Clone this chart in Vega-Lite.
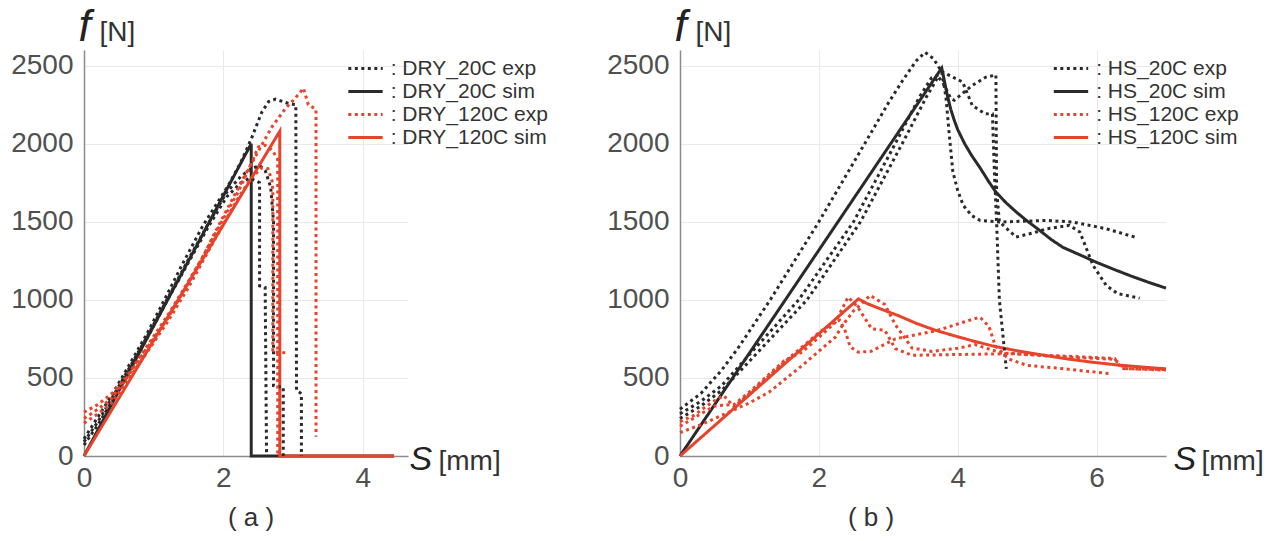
{
"$schema": "https://vega.github.io/schema/vega-lite/v6.json",
"padding": {"left": 10, "top": 5, "right": 5, "bottom": 5},
"spacing": 272,
"bounds": "flush",
"config": {
  "view": {"stroke": null},
  "font": "Liberation Sans",
  "axis": {"grid": true, "gridColor": "#e9e9e9", "gridWidth": 1, "domainColor": "#8c8c8c", "domainWidth": 1.5, "ticks": false, "tickSize": 0, "labelFontSize": 28, "labelColor": "#505050", "labelFont": "Liberation Sans", "labelFlush": false, "titleFont": "Liberation Sans", "titleFontWeight": "normal", "titleColor": "#222222", "titleAngle": 0, "titleAlign": "left", "titleBaseline": "alphabetic", "format": "d"},
  "legend": {"orient": "none", "symbolType": "M-2.4,0H2.4", "symbolSize": 205, "symbolStrokeWidth": 3, "labelFontSize": 21, "labelColor": "#333333", "labelFont": "Liberation Sans", "labelOffset": 14.7, "rowPadding": 1},
  "title": {"font": "Liberation Sans", "fontSize": 26, "fontWeight": "normal", "color": "#333333", "orient": "bottom", "anchor": "middle", "offset": 13}
},
"resolve": {"scale": {"color": "independent", "strokeDash": "independent", "x": "independent", "y": "independent"}},
"datasets": {
  "dry": [
    {"series": "DRY_20C sim", "run": 1, "s": 0, "f": 0}, {"series": "DRY_20C sim", "run": 1, "s": 2.4, "f": 2000}, {"series": "DRY_20C sim", "run": 1, "s": 2.4, "f": 0}, {"series": "DRY_20C sim", "run": 1, "s": 4.45, "f": 0},
    {"series": "DRY_120C sim", "run": 1, "s": 0, "f": 0}, {"series": "DRY_120C sim", "run": 1, "s": 2.81, "f": 2080}, {"series": "DRY_120C sim", "run": 1, "s": 2.81, "f": 0}, {"series": "DRY_120C sim", "run": 1, "s": 4.45, "f": 0},
    {"series": "DRY_20C exp", "run": 1, "s": 0, "f": 110}, {"series": "DRY_20C exp", "run": 1, "s": 0.2, "f": 250}, {"series": "DRY_20C exp", "run": 1, "s": 0.4, "f": 390}, {"series": "DRY_20C exp", "run": 1, "s": 0.6, "f": 545}, {"series": "DRY_20C exp", "run": 1, "s": 0.9, "f": 780}, {"series": "DRY_20C exp", "run": 1, "s": 1.2, "f": 1040}, {"series": "DRY_20C exp", "run": 1, "s": 1.4, "f": 1218}, {"series": "DRY_20C exp", "run": 1, "s": 1.7, "f": 1470}, {"series": "DRY_20C exp", "run": 1, "s": 2.07, "f": 1732}, {"series": "DRY_20C exp", "run": 1, "s": 2.25, "f": 1880}, {"series": "DRY_20C exp", "run": 1, "s": 2.4, "f": 2030}, {"series": "DRY_20C exp", "run": 1, "s": 2.55, "f": 2200}, {"series": "DRY_20C exp", "run": 1, "s": 2.65, "f": 2270}, {"series": "DRY_20C exp", "run": 1, "s": 2.75, "f": 2285}, {"series": "DRY_20C exp", "run": 1, "s": 2.85, "f": 2270}, {"series": "DRY_20C exp", "run": 1, "s": 2.95, "f": 2255}, {"series": "DRY_20C exp", "run": 1, "s": 3.04, "f": 2250}, {"series": "DRY_20C exp", "run": 1, "s": 3.05, "f": 420}, {"series": "DRY_20C exp", "run": 1, "s": 3.12, "f": 400}, {"series": "DRY_20C exp", "run": 1, "s": 3.12, "f": 0},
    {"series": "DRY_20C exp", "run": 2, "s": 0, "f": 90}, {"series": "DRY_20C exp", "run": 2, "s": 0.2, "f": 220}, {"series": "DRY_20C exp", "run": 2, "s": 0.4, "f": 370}, {"series": "DRY_20C exp", "run": 2, "s": 0.6, "f": 525}, {"series": "DRY_20C exp", "run": 2, "s": 0.9, "f": 760}, {"series": "DRY_20C exp", "run": 2, "s": 1.2, "f": 1010}, {"series": "DRY_20C exp", "run": 2, "s": 1.5, "f": 1260}, {"series": "DRY_20C exp", "run": 2, "s": 1.8, "f": 1500}, {"series": "DRY_20C exp", "run": 2, "s": 2.05, "f": 1690}, {"series": "DRY_20C exp", "run": 2, "s": 2.25, "f": 1790}, {"series": "DRY_20C exp", "run": 2, "s": 2.4, "f": 1840}, {"series": "DRY_20C exp", "run": 2, "s": 2.52, "f": 1860}, {"series": "DRY_20C exp", "run": 2, "s": 2.6, "f": 1830}, {"series": "DRY_20C exp", "run": 2, "s": 2.68, "f": 1720}, {"series": "DRY_20C exp", "run": 2, "s": 2.72, "f": 1500}, {"series": "DRY_20C exp", "run": 2, "s": 2.72, "f": 450}, {"series": "DRY_20C exp", "run": 2, "s": 2.86, "f": 440}, {"series": "DRY_20C exp", "run": 2, "s": 2.86, "f": 0},
    {"series": "DRY_20C exp", "run": 3, "s": 0, "f": 70}, {"series": "DRY_20C exp", "run": 3, "s": 0.2, "f": 200}, {"series": "DRY_20C exp", "run": 3, "s": 0.4, "f": 350}, {"series": "DRY_20C exp", "run": 3, "s": 0.6, "f": 510}, {"series": "DRY_20C exp", "run": 3, "s": 0.9, "f": 750}, {"series": "DRY_20C exp", "run": 3, "s": 1.2, "f": 1000}, {"series": "DRY_20C exp", "run": 3, "s": 1.5, "f": 1240}, {"series": "DRY_20C exp", "run": 3, "s": 1.8, "f": 1480}, {"series": "DRY_20C exp", "run": 3, "s": 2.05, "f": 1660}, {"series": "DRY_20C exp", "run": 3, "s": 2.25, "f": 1750}, {"series": "DRY_20C exp", "run": 3, "s": 2.38, "f": 1780}, {"series": "DRY_20C exp", "run": 3, "s": 2.45, "f": 1765}, {"series": "DRY_20C exp", "run": 3, "s": 2.52, "f": 1750}, {"series": "DRY_20C exp", "run": 3, "s": 2.52, "f": 1090}, {"series": "DRY_20C exp", "run": 3, "s": 2.6, "f": 1080}, {"series": "DRY_20C exp", "run": 3, "s": 2.62, "f": 0},
    {"series": "DRY_120C exp", "run": 1, "s": 0, "f": 280}, {"series": "DRY_120C exp", "run": 1, "s": 0.2, "f": 330}, {"series": "DRY_120C exp", "run": 1, "s": 0.4, "f": 400}, {"series": "DRY_120C exp", "run": 1, "s": 0.6, "f": 500}, {"series": "DRY_120C exp", "run": 1, "s": 0.9, "f": 700}, {"series": "DRY_120C exp", "run": 1, "s": 1.2, "f": 900}, {"series": "DRY_120C exp", "run": 1, "s": 1.4, "f": 1046}, {"series": "DRY_120C exp", "run": 1, "s": 1.7, "f": 1270}, {"series": "DRY_120C exp", "run": 1, "s": 1.88, "f": 1432}, {"series": "DRY_120C exp", "run": 1, "s": 2.1, "f": 1620}, {"series": "DRY_120C exp", "run": 1, "s": 2.3, "f": 1790}, {"series": "DRY_120C exp", "run": 1, "s": 2.5, "f": 1950}, {"series": "DRY_120C exp", "run": 1, "s": 2.7, "f": 2110}, {"series": "DRY_120C exp", "run": 1, "s": 2.9, "f": 2230}, {"series": "DRY_120C exp", "run": 1, "s": 3.03, "f": 2290}, {"series": "DRY_120C exp", "run": 1, "s": 3.15, "f": 2355}, {"series": "DRY_120C exp", "run": 1, "s": 3.22, "f": 2250}, {"series": "DRY_120C exp", "run": 1, "s": 3.31, "f": 2225}, {"series": "DRY_120C exp", "run": 1, "s": 3.33, "f": 2220}, {"series": "DRY_120C exp", "run": 1, "s": 3.33, "f": 124},
    {"series": "DRY_120C exp", "run": 2, "s": 0, "f": 240}, {"series": "DRY_120C exp", "run": 2, "s": 0.2, "f": 300}, {"series": "DRY_120C exp", "run": 2, "s": 0.4, "f": 370}, {"series": "DRY_120C exp", "run": 2, "s": 0.6, "f": 490}, {"series": "DRY_120C exp", "run": 2, "s": 0.9, "f": 690}, {"series": "DRY_120C exp", "run": 2, "s": 1.2, "f": 880}, {"series": "DRY_120C exp", "run": 2, "s": 1.5, "f": 1110}, {"series": "DRY_120C exp", "run": 2, "s": 1.88, "f": 1420}, {"series": "DRY_120C exp", "run": 2, "s": 2.21, "f": 1690}, {"series": "DRY_120C exp", "run": 2, "s": 2.4, "f": 1870}, {"series": "DRY_120C exp", "run": 2, "s": 2.5, "f": 1979}, {"series": "DRY_120C exp", "run": 2, "s": 2.6, "f": 1990}, {"series": "DRY_120C exp", "run": 2, "s": 2.7, "f": 1960}, {"series": "DRY_120C exp", "run": 2, "s": 2.78, "f": 1900}, {"series": "DRY_120C exp", "run": 2, "s": 2.78, "f": 0},
    {"series": "DRY_120C exp", "run": 3, "s": 0, "f": 210}, {"series": "DRY_120C exp", "run": 3, "s": 0.2, "f": 270}, {"series": "DRY_120C exp", "run": 3, "s": 0.4, "f": 340}, {"series": "DRY_120C exp", "run": 3, "s": 0.6, "f": 470}, {"series": "DRY_120C exp", "run": 3, "s": 0.9, "f": 660}, {"series": "DRY_120C exp", "run": 3, "s": 1.2, "f": 860}, {"series": "DRY_120C exp", "run": 3, "s": 1.5, "f": 1080}, {"series": "DRY_120C exp", "run": 3, "s": 1.88, "f": 1390}, {"series": "DRY_120C exp", "run": 3, "s": 2.21, "f": 1650}, {"series": "DRY_120C exp", "run": 3, "s": 2.4, "f": 1780}, {"series": "DRY_120C exp", "run": 3, "s": 2.55, "f": 1845}, {"series": "DRY_120C exp", "run": 3, "s": 2.64, "f": 1840}, {"series": "DRY_120C exp", "run": 3, "s": 2.7, "f": 1760}, {"series": "DRY_120C exp", "run": 3, "s": 2.71, "f": 1700}, {"series": "DRY_120C exp", "run": 3, "s": 2.71, "f": 667}, {"series": "DRY_120C exp", "run": 3, "s": 2.9, "f": 660}
  ],
  "hs": [
    {"series": "HS_20C sim", "run": 1, "s": 0, "f": 0}, {"series": "HS_20C sim", "run": 1, "s": 3.77, "f": 2485}, {"series": "HS_20C sim", "run": 1, "s": 3.8, "f": 2420}, {"series": "HS_20C sim", "run": 1, "s": 3.85, "f": 2310}, {"series": "HS_20C sim", "run": 1, "s": 3.9, "f": 2220}, {"series": "HS_20C sim", "run": 1, "s": 3.95, "f": 2150}, {"series": "HS_20C sim", "run": 1, "s": 4.0, "f": 2090}, {"series": "HS_20C sim", "run": 1, "s": 4.1, "f": 2000}, {"series": "HS_20C sim", "run": 1, "s": 4.2, "f": 1925}, {"series": "HS_20C sim", "run": 1, "s": 4.33, "f": 1840}, {"series": "HS_20C sim", "run": 1, "s": 4.45, "f": 1755}, {"series": "HS_20C sim", "run": 1, "s": 4.55, "f": 1690}, {"series": "HS_20C sim", "run": 1, "s": 4.7, "f": 1620}, {"series": "HS_20C sim", "run": 1, "s": 4.85, "f": 1560}, {"series": "HS_20C sim", "run": 1, "s": 5.0, "f": 1505}, {"series": "HS_20C sim", "run": 1, "s": 5.18, "f": 1445}, {"series": "HS_20C sim", "run": 1, "s": 5.35, "f": 1385}, {"series": "HS_20C sim", "run": 1, "s": 5.52, "f": 1335}, {"series": "HS_20C sim", "run": 1, "s": 5.75, "f": 1290}, {"series": "HS_20C sim", "run": 1, "s": 6.0, "f": 1240}, {"series": "HS_20C sim", "run": 1, "s": 6.25, "f": 1195}, {"series": "HS_20C sim", "run": 1, "s": 6.5, "f": 1152}, {"series": "HS_20C sim", "run": 1, "s": 6.75, "f": 1112}, {"series": "HS_20C sim", "run": 1, "s": 7.0, "f": 1075},
    {"series": "HS_120C sim", "run": 1, "s": 0, "f": 0}, {"series": "HS_120C sim", "run": 1, "s": 2.57, "f": 1006}, {"series": "HS_120C sim", "run": 1, "s": 2.7, "f": 975}, {"series": "HS_120C sim", "run": 1, "s": 2.9, "f": 940}, {"series": "HS_120C sim", "run": 1, "s": 3.15, "f": 898}, {"series": "HS_120C sim", "run": 1, "s": 3.4, "f": 850}, {"series": "HS_120C sim", "run": 1, "s": 3.68, "f": 805}, {"series": "HS_120C sim", "run": 1, "s": 3.95, "f": 770}, {"series": "HS_120C sim", "run": 1, "s": 4.21, "f": 738}, {"series": "HS_120C sim", "run": 1, "s": 4.5, "f": 705}, {"series": "HS_120C sim", "run": 1, "s": 4.84, "f": 675}, {"series": "HS_120C sim", "run": 1, "s": 5.2, "f": 648}, {"series": "HS_120C sim", "run": 1, "s": 5.57, "f": 622}, {"series": "HS_120C sim", "run": 1, "s": 5.95, "f": 600}, {"series": "HS_120C sim", "run": 1, "s": 6.3, "f": 583}, {"series": "HS_120C sim", "run": 1, "s": 6.65, "f": 570}, {"series": "HS_120C sim", "run": 1, "s": 7.0, "f": 558},
    {"series": "HS_20C exp", "run": 1, "s": 0, "f": 300}, {"series": "HS_20C exp", "run": 1, "s": 0.3, "f": 400}, {"series": "HS_20C exp", "run": 1, "s": 0.6, "f": 550}, {"series": "HS_20C exp", "run": 1, "s": 0.85, "f": 700}, {"series": "HS_20C exp", "run": 1, "s": 1.3, "f": 1000}, {"series": "HS_20C exp", "run": 1, "s": 2.0, "f": 1500}, {"series": "HS_20C exp", "run": 1, "s": 2.66, "f": 2000}, {"series": "HS_20C exp", "run": 1, "s": 3.0, "f": 2260}, {"series": "HS_20C exp", "run": 1, "s": 3.2, "f": 2400}, {"series": "HS_20C exp", "run": 1, "s": 3.4, "f": 2530}, {"series": "HS_20C exp", "run": 1, "s": 3.53, "f": 2585}, {"series": "HS_20C exp", "run": 1, "s": 3.65, "f": 2545}, {"series": "HS_20C exp", "run": 1, "s": 3.77, "f": 2460}, {"series": "HS_20C exp", "run": 1, "s": 3.83, "f": 2300}, {"series": "HS_20C exp", "run": 1, "s": 3.88, "f": 2050}, {"series": "HS_20C exp", "run": 1, "s": 3.93, "f": 1820}, {"series": "HS_20C exp", "run": 1, "s": 4.0, "f": 1700}, {"series": "HS_20C exp", "run": 1, "s": 4.08, "f": 1605}, {"series": "HS_20C exp", "run": 1, "s": 4.2, "f": 1540}, {"series": "HS_20C exp", "run": 1, "s": 4.32, "f": 1509}, {"series": "HS_20C exp", "run": 1, "s": 4.6, "f": 1498}, {"series": "HS_20C exp", "run": 1, "s": 5.28, "f": 1509}, {"series": "HS_20C exp", "run": 1, "s": 5.66, "f": 1498}, {"series": "HS_20C exp", "run": 1, "s": 6.14, "f": 1455}, {"series": "HS_20C exp", "run": 1, "s": 6.55, "f": 1402},
    {"series": "HS_20C exp", "run": 2, "s": 0, "f": 270}, {"series": "HS_20C exp", "run": 2, "s": 0.3, "f": 350}, {"series": "HS_20C exp", "run": 2, "s": 0.6, "f": 450}, {"series": "HS_20C exp", "run": 2, "s": 0.9, "f": 600}, {"series": "HS_20C exp", "run": 2, "s": 1.71, "f": 1000}, {"series": "HS_20C exp", "run": 2, "s": 2.5, "f": 1500}, {"series": "HS_20C exp", "run": 2, "s": 3.1, "f": 2000}, {"series": "HS_20C exp", "run": 2, "s": 3.45, "f": 2300}, {"series": "HS_20C exp", "run": 2, "s": 3.62, "f": 2420}, {"series": "HS_20C exp", "run": 2, "s": 3.8, "f": 2455}, {"series": "HS_20C exp", "run": 2, "s": 4.07, "f": 2395}, {"series": "HS_20C exp", "run": 2, "s": 4.21, "f": 2245}, {"series": "HS_20C exp", "run": 2, "s": 4.39, "f": 2192}, {"series": "HS_20C exp", "run": 2, "s": 4.5, "f": 2190}, {"series": "HS_20C exp", "run": 2, "s": 4.53, "f": 1800}, {"series": "HS_20C exp", "run": 2, "s": 4.56, "f": 1500}, {"series": "HS_20C exp", "run": 2, "s": 4.6, "f": 1000}, {"series": "HS_20C exp", "run": 2, "s": 4.7, "f": 558},
    {"series": "HS_20C exp", "run": 3, "s": 0, "f": 240}, {"series": "HS_20C exp", "run": 3, "s": 0.3, "f": 320}, {"series": "HS_20C exp", "run": 3, "s": 0.6, "f": 420}, {"series": "HS_20C exp", "run": 3, "s": 0.9, "f": 560}, {"series": "HS_20C exp", "run": 3, "s": 1.83, "f": 1000}, {"series": "HS_20C exp", "run": 3, "s": 2.6, "f": 1500}, {"series": "HS_20C exp", "run": 3, "s": 3.2, "f": 2000}, {"series": "HS_20C exp", "run": 3, "s": 3.55, "f": 2300}, {"series": "HS_20C exp", "run": 3, "s": 3.72, "f": 2430}, {"series": "HS_20C exp", "run": 3, "s": 3.8, "f": 2380}, {"series": "HS_20C exp", "run": 3, "s": 3.9, "f": 2290}, {"series": "HS_20C exp", "run": 3, "s": 3.95, "f": 2278}, {"series": "HS_20C exp", "run": 3, "s": 4.2, "f": 2370}, {"series": "HS_20C exp", "run": 3, "s": 4.4, "f": 2425}, {"series": "HS_20C exp", "run": 3, "s": 4.55, "f": 2440}, {"series": "HS_20C exp", "run": 3, "s": 4.56, "f": 1700}, {"series": "HS_20C exp", "run": 3, "s": 4.6, "f": 1500}, {"series": "HS_20C exp", "run": 3, "s": 4.84, "f": 1402}, {"series": "HS_20C exp", "run": 3, "s": 5.1, "f": 1430}, {"series": "HS_20C exp", "run": 3, "s": 5.28, "f": 1455}, {"series": "HS_20C exp", "run": 3, "s": 5.61, "f": 1477}, {"series": "HS_20C exp", "run": 3, "s": 5.76, "f": 1434}, {"series": "HS_20C exp", "run": 3, "s": 5.95, "f": 1220}, {"series": "HS_20C exp", "run": 3, "s": 6.14, "f": 1092}, {"series": "HS_20C exp", "run": 3, "s": 6.3, "f": 1040}, {"series": "HS_20C exp", "run": 3, "s": 6.62, "f": 1011},
    {"series": "HS_120C exp", "run": 1, "s": 0, "f": 220}, {"series": "HS_120C exp", "run": 1, "s": 0.2, "f": 260}, {"series": "HS_120C exp", "run": 1, "s": 0.46, "f": 344}, {"series": "HS_120C exp", "run": 1, "s": 0.63, "f": 387}, {"series": "HS_120C exp", "run": 1, "s": 0.78, "f": 314}, {"series": "HS_120C exp", "run": 1, "s": 1.0, "f": 400}, {"series": "HS_120C exp", "run": 1, "s": 1.5, "f": 600}, {"series": "HS_120C exp", "run": 1, "s": 2.0, "f": 790}, {"series": "HS_120C exp", "run": 1, "s": 2.2, "f": 850}, {"series": "HS_120C exp", "run": 1, "s": 2.3, "f": 870}, {"series": "HS_120C exp", "run": 1, "s": 2.38, "f": 800}, {"series": "HS_120C exp", "run": 1, "s": 2.45, "f": 700}, {"series": "HS_120C exp", "run": 1, "s": 2.57, "f": 665}, {"series": "HS_120C exp", "run": 1, "s": 2.75, "f": 670}, {"series": "HS_120C exp", "run": 1, "s": 3.1, "f": 750}, {"series": "HS_120C exp", "run": 1, "s": 3.7, "f": 803}, {"series": "HS_120C exp", "run": 1, "s": 4.1, "f": 860}, {"series": "HS_120C exp", "run": 1, "s": 4.32, "f": 889}, {"series": "HS_120C exp", "run": 1, "s": 4.45, "f": 830}, {"series": "HS_120C exp", "run": 1, "s": 4.54, "f": 707}, {"series": "HS_120C exp", "run": 1, "s": 4.73, "f": 622}, {"series": "HS_120C exp", "run": 1, "s": 5.0, "f": 580}, {"series": "HS_120C exp", "run": 1, "s": 5.5, "f": 560}, {"series": "HS_120C exp", "run": 1, "s": 6.22, "f": 526},
    {"series": "HS_120C exp", "run": 2, "s": 0, "f": 190}, {"series": "HS_120C exp", "run": 2, "s": 0.3, "f": 270}, {"series": "HS_120C exp", "run": 2, "s": 0.5, "f": 320}, {"series": "HS_120C exp", "run": 2, "s": 0.78, "f": 330}, {"series": "HS_120C exp", "run": 2, "s": 1.0, "f": 410}, {"series": "HS_120C exp", "run": 2, "s": 1.5, "f": 610}, {"series": "HS_120C exp", "run": 2, "s": 1.76, "f": 666}, {"series": "HS_120C exp", "run": 2, "s": 2.0, "f": 760}, {"series": "HS_120C exp", "run": 2, "s": 2.24, "f": 857}, {"series": "HS_120C exp", "run": 2, "s": 2.42, "f": 1017}, {"series": "HS_120C exp", "run": 2, "s": 2.55, "f": 960}, {"series": "HS_120C exp", "run": 2, "s": 2.76, "f": 815}, {"series": "HS_120C exp", "run": 2, "s": 2.95, "f": 805}, {"series": "HS_120C exp", "run": 2, "s": 3.1, "f": 688}, {"series": "HS_120C exp", "run": 2, "s": 3.34, "f": 645}, {"series": "HS_120C exp", "run": 2, "s": 4.0, "f": 650}, {"series": "HS_120C exp", "run": 2, "s": 4.78, "f": 655}, {"series": "HS_120C exp", "run": 2, "s": 5.83, "f": 634}, {"series": "HS_120C exp", "run": 2, "s": 6.26, "f": 624}, {"series": "HS_120C exp", "run": 2, "s": 6.36, "f": 560}, {"series": "HS_120C exp", "run": 2, "s": 7.0, "f": 553},
    {"series": "HS_120C exp", "run": 3, "s": 0, "f": 150}, {"series": "HS_120C exp", "run": 3, "s": 0.3, "f": 200}, {"series": "HS_120C exp", "run": 3, "s": 0.6, "f": 260}, {"series": "HS_120C exp", "run": 3, "s": 1.0, "f": 340}, {"series": "HS_120C exp", "run": 3, "s": 1.28, "f": 408}, {"series": "HS_120C exp", "run": 3, "s": 1.76, "f": 580}, {"series": "HS_120C exp", "run": 3, "s": 2.24, "f": 762}, {"series": "HS_120C exp", "run": 3, "s": 2.33, "f": 830}, {"series": "HS_120C exp", "run": 3, "s": 2.5, "f": 930}, {"series": "HS_120C exp", "run": 3, "s": 2.74, "f": 1028}, {"series": "HS_120C exp", "run": 3, "s": 2.95, "f": 970}, {"series": "HS_120C exp", "run": 3, "s": 3.1, "f": 842}, {"series": "HS_120C exp", "run": 3, "s": 3.34, "f": 692}, {"series": "HS_120C exp", "run": 3, "s": 3.63, "f": 670}, {"series": "HS_120C exp", "run": 3, "s": 4.0, "f": 690}, {"series": "HS_120C exp", "run": 3, "s": 4.25, "f": 713}, {"series": "HS_120C exp", "run": 3, "s": 4.63, "f": 660}, {"series": "HS_120C exp", "run": 3, "s": 5.5, "f": 635}, {"series": "HS_120C exp", "run": 3, "s": 6.22, "f": 620}, {"series": "HS_120C exp", "run": 3, "s": 6.32, "f": 600}, {"series": "HS_120C exp", "run": 3, "s": 6.39, "f": 560}, {"series": "HS_120C exp", "run": 3, "s": 7.0, "f": 550}
  ]
},
"hconcat": [
  {
    "width": 324, "height": 406,
    "title": {"text": "( a )", "dx": 5},
    "resolve": {"axis": {"x": "independent", "y": "independent"}},
    "layer": [
      {
        "data": {"name": "dry"},
        "mark": {"type": "line", "strokeWidth": 3, "strokeCap": "butt", "clip": false},
        "encoding": {
          "x": {"field": "s", "type": "quantitative", "scale": {"domain": [0, 4.65], "nice": false, "zero": false},
                "axis": {"orient": "bottom", "values": [0, 2, 4], "labelPadding": 8, "title": "S", "titleFontStyle": "italic", "titleFontSize": 34, "titleX": 325, "titleY": 13}},
          "y": {"field": "f", "type": "quantitative", "scale": {"domain": [0, 2600], "nice": false},
                "axis": {"orient": "left", "values": [0, 500, 1000, 1500, 2000, 2500], "labelPadding": 11, "title": "f", "titleFontStyle": "italic", "titleFontSize": 44, "titleX": -6, "titleY": -10}},
          "color": {"field": "series", "type": "nominal",
                    "scale": {"domain": ["DRY_20C exp", "DRY_20C sim", "DRY_120C exp", "DRY_120C sim"], "range": ["#2a2a2a", "#2a2a2a", "#e8432b", "#e8432b"]},
                    "legend": {"title": null, "legendX": 271, "legendY": 8, "labelExpr": "': ' + datum.label"}},
          "strokeDash": {"field": "series", "type": "nominal",
                    "scale": {"domain": ["DRY_20C exp", "DRY_20C sim", "DRY_120C exp", "DRY_120C sim"], "range": [[3, 3.5], [1, 0], [3, 3.5], [1, 0]]},
                    "legend": {"title": null, "legendX": 271, "legendY": 8, "labelExpr": "': ' + datum.label"}},
          "detail": {"field": "run", "type": "nominal"},
          "order": {"value": null}
        }
      },
      {
        "data": {"values": [{}]},
        "mark": {"type": "point", "opacity": 0},
        "encoding": {
          "x": {"datum": 0, "type": "quantitative", "axis": {"orient": "bottom", "title": "[mm]", "labels": false, "grid": false, "domain": false, "titleFontSize": 28, "titleColor": "#333333", "titleX": 354, "titleY": 13}},
          "y": {"datum": 0, "type": "quantitative", "axis": {"orient": "left", "title": "[N]", "labels": false, "grid": false, "domain": false, "titleFontSize": 28, "titleColor": "#333333", "titleX": 15, "titleY": -10}}
        }
      }
    ]
  },
  {
    "width": 486, "height": 406,
    "title": {"text": "( b )", "dx": -52},
    "resolve": {"axis": {"x": "independent", "y": "independent"}},
    "layer": [
      {
        "data": {"name": "hs"},
        "mark": {"type": "line", "strokeWidth": 3, "strokeCap": "butt", "clip": false},
        "encoding": {
          "x": {"field": "s", "type": "quantitative", "scale": {"domain": [0, 7], "nice": false, "zero": false},
                "axis": {"orient": "bottom", "values": [0, 2, 4, 6], "labelPadding": 8, "title": "S", "titleFontStyle": "italic", "titleFontSize": 34, "titleX": 493, "titleY": 13}},
          "y": {"field": "f", "type": "quantitative", "scale": {"domain": [0, 2600], "nice": false},
                "axis": {"orient": "left", "values": [0, 500, 1000, 1500, 2000, 2500], "labelPadding": 11, "title": "f", "titleFontStyle": "italic", "titleFontSize": 44, "titleX": -6, "titleY": -10}},
          "color": {"field": "series", "type": "nominal",
                    "scale": {"domain": ["HS_20C exp", "HS_20C sim", "HS_120C exp", "HS_120C sim"], "range": ["#2a2a2a", "#2a2a2a", "#e8432b", "#e8432b"]},
                    "legend": {"title": null, "legendX": 380.5, "legendY": 8, "labelExpr": "': ' + datum.label"}},
          "strokeDash": {"field": "series", "type": "nominal",
                    "scale": {"domain": ["HS_20C exp", "HS_20C sim", "HS_120C exp", "HS_120C sim"], "range": [[3, 3.5], [1, 0], [3, 3.5], [1, 0]]},
                    "legend": {"title": null, "legendX": 380.5, "legendY": 8, "labelExpr": "': ' + datum.label"}},
          "detail": {"field": "run", "type": "nominal"},
          "order": {"value": null}
        }
      },
      {
        "data": {"values": [{}]},
        "mark": {"type": "point", "opacity": 0},
        "encoding": {
          "x": {"datum": 0, "type": "quantitative", "axis": {"orient": "bottom", "title": "[mm]", "labels": false, "grid": false, "domain": false, "titleFontSize": 28, "titleColor": "#333333", "titleX": 521, "titleY": 13}},
          "y": {"datum": 0, "type": "quantitative", "axis": {"orient": "left", "title": "[N]", "labels": false, "grid": false, "domain": false, "titleFontSize": 28, "titleColor": "#333333", "titleX": 15, "titleY": -10}}
        }
      }
    ]
  }
]
}
